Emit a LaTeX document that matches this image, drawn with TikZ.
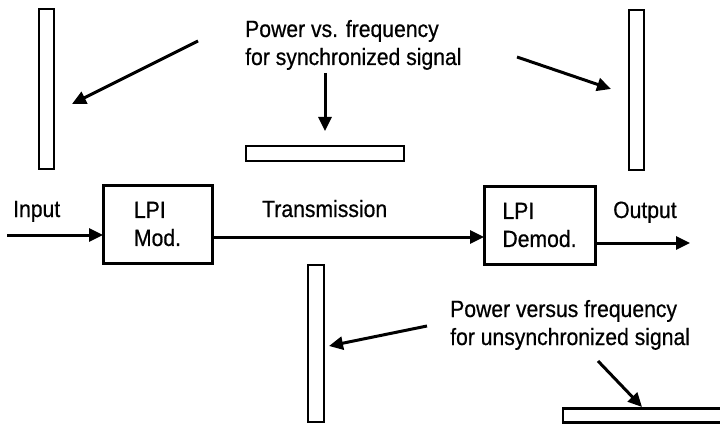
\documentclass[tikz,border=0pt]{standalone}
\usepackage{fontspec}
\setmainfont{Liberation Sans}[FakeStretch=0.9,FakeBold=0.6]
\usetikzlibrary{arrows.meta}
\begin{document}
\begin{tikzpicture}[x=1pt,y=-1pt,
  spec/.style={draw, line width=2.8pt, inner sep=0pt, outer sep=0pt},
  blockbox/.style={draw, line width=3pt, inner sep=0pt, outer sep=0pt, align=left,
    font=\fontsize{23.5}{28}\selectfont},
  arr/.style={line width=3pt, -{Triangle[length=14pt,width=13pt]}},
  lbl/.style={font=\fontsize{23.5}{28}\selectfont, inner sep=0pt, anchor=base west, align=left}]
\useasboundingbox (0,0) rectangle (720,425);
\clip (0,0) rectangle (720,425);
% spectra
\node[spec, minimum width=15pt, minimum height=160pt] (s1) at (46.5,89) {};
\node[spec, minimum width=158pt, minimum height=15pt] (s2) at (325,153.5) {};
\node[spec, minimum width=15pt, minimum height=160pt] (s3) at (636.5,90) {};
\node[spec, minimum width=16pt, minimum height=157pt] (s4) at (316,343.5) {};
\node[spec, minimum width=162pt, minimum height=14pt] (s5) at (644,415.5) {};
% blocks
\node[blockbox, minimum width=109pt, minimum height=78pt] (mod) at (157.5,224) {LPI\\Mod.};
\node[blockbox, minimum width=111pt, minimum height=78pt] (demod) at (539.5,225) {LPI\\Demod.};
% labels (base = last line)
\node[lbl] (tsync) at (245,65) {Power vs. frequency\\for synchronized signal};
\node[lbl] (tunsync) at (450,345) {Power versus frequency\\for unsynchronized signal};
\node[lbl] (tin) at (13,217) {Input};
\node[lbl] (ttx) at (262,217) {Transmission};
\node[lbl] (tout) at (613,218) {Output};
% coordinates
\coordinate (in0) at (7,235);
\coordinate (txy) at (300,237);
\coordinate (outy) at (690,243);
\coordinate (a1s) at (198,41);
\coordinate (a1e) at (72,104);
\coordinate (a2s) at (325,73);
\coordinate (a2e) at (325,131);
\coordinate (a3s) at (517,57);
\coordinate (a3e) at (611,89);
\coordinate (a4s) at (427,326);
\coordinate (a4e) at (329,346);
\coordinate (a5s) at (598,361);
\coordinate (a5e) at (642,407);
% connectors
\draw[arr] (in0) -- (in0 -| mod.west);
\draw[arr] (txy -| mod.east) -- (txy -| demod.west);
\draw[arr] (outy -| demod.east) -- (outy);
\draw[arr] (a1s) -- (a1e);
\draw[arr] (a2s) -- (a2e);
\draw[arr] (a3s) -- (a3e);
\draw[arr] (a4s) -- (a4e);
\draw[arr] (a5s) -- (a5e);
\end{tikzpicture}
\end{document}
